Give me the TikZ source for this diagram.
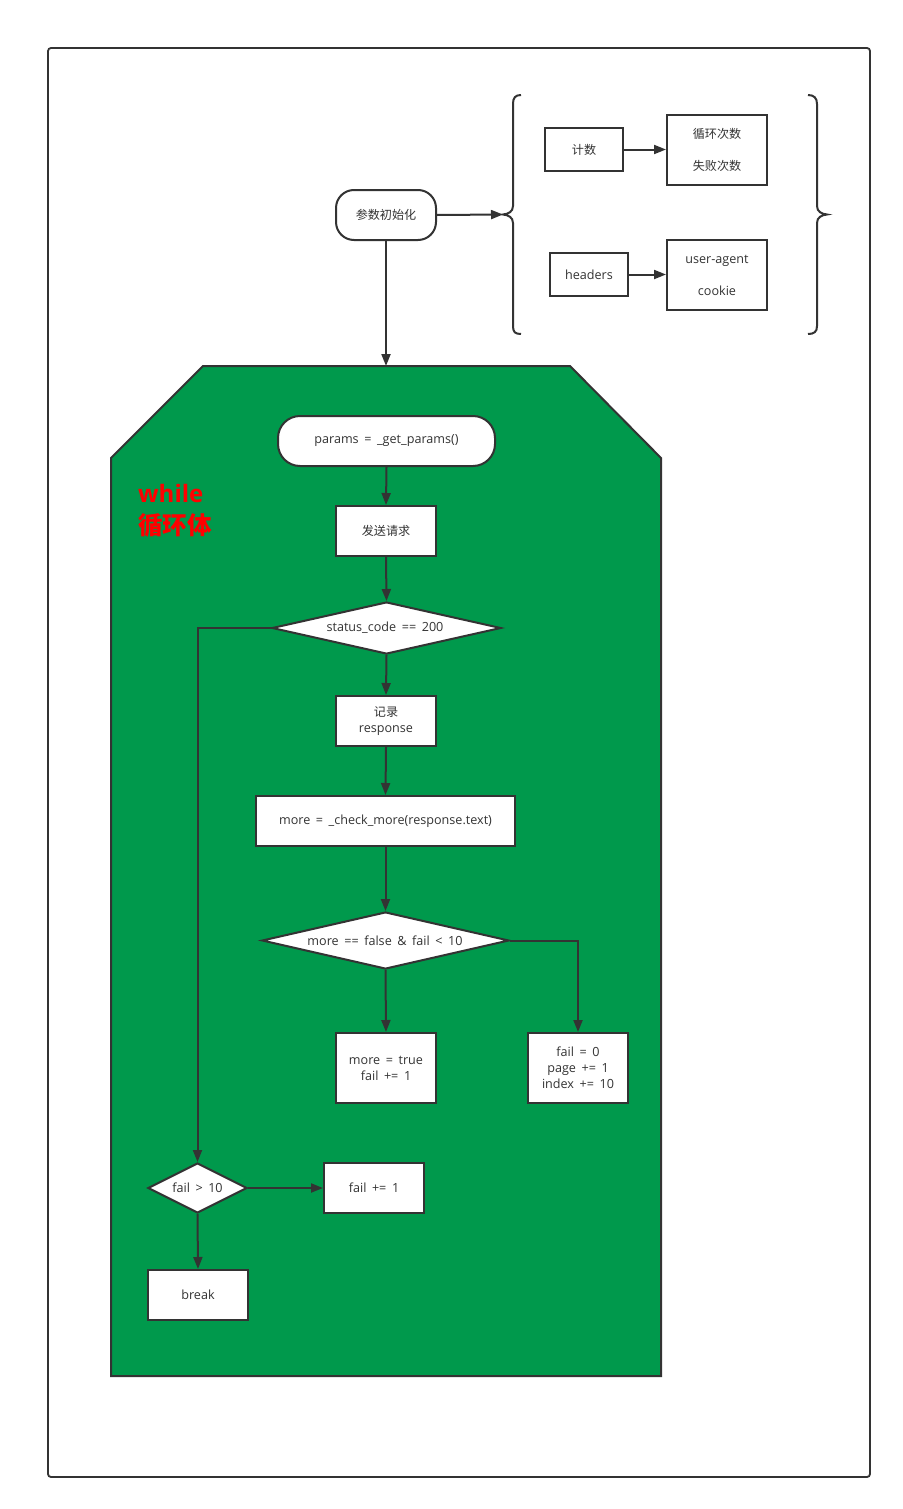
\documentclass[tikz,border=0pt]{standalone}
\usepackage{fontspec}
\setmainfont{Open Sans}[WordSpace=1.7]
\newfontfamily\cjk{Noto Sans CJK SC}[Scale=0.96]
\usetikzlibrary{arrows.meta,shapes.geometric}
\definecolor{ink}{HTML}{333333}
\definecolor{loopgreen}{RGB}{0,153,76}
\begin{document}
\begin{tikzpicture}[x=1pt,y=-1pt,
  every node/.style={font=\fontsize{12.6}{16}\selectfont, text=ink, inner sep=0pt, align=center},
  conn/.style={draw=ink, line width=2pt, -{Triangle[length=12pt,width=9pt]}},
  plainline/.style={draw=ink, line width=2pt},
  boxnode/.style={draw=ink, line width=2pt, fill=white, rectangle},
  termnode/.style={draw=ink, line width=2pt, fill=white, rounded corners=18pt},
  decnode/.style={draw=ink, line width=2pt, fill=white, diamond, aspect=4},
]
\useasboundingbox (0,0) rectangle (902,1509);
\fill[white] (0,0) rectangle (902,1509);
% outer frame
\draw[ink, line width=1.8pt, rounded corners=3pt] (48,48) rectangle (870,1477);

% init part
\node[termnode, minimum width=100pt, minimum height=50pt] (init) at (386,215) {\cjk 参数初始化};
\coordinate (lbtip) at (503,214.5);
\draw[plainline] (521,95) .. controls (515,95) and (513,98) .. (513,104) -- (513,206)
   .. controls (513,212) and (508,214) .. (lbtip)
   .. controls (508,215) and (513,217) .. (513,223) -- (513,326)
   .. controls (513,332) and (515,334) .. (521,334);
\draw[plainline] (808,95) .. controls (814,95) and (817,98) .. (817,104) -- (817,206)
   .. controls (817,212) and (822,214) .. (827,214.5)
   .. controls (822,215) and (817,217) .. (817,223) -- (817,326)
   .. controls (817,332) and (814,334) .. (808,334);
\draw[conn] (init.east) -- (lbtip);

\node[boxnode, minimum width=78pt, minimum height=43pt] (count) at (584,149.5) {\cjk 计数};
\node[boxnode, minimum width=100pt, minimum height=70pt] (countv) at (717,150) {\cjk 循环次数\\[16pt]\cjk 失败次数};
\node[boxnode, minimum width=78pt, minimum height=43pt] (headers) at (589,274.5) {headers};
\node[boxnode, minimum width=100pt, minimum height=70pt] (headv) at (717,275) {user-agent\\[16pt]cookie};
\draw[conn] (count.east) -- (countv.west |- count.east);
\draw[conn] (headers.east) -- (headv.west |- headers.east);

% loop body
\draw[ink, line width=2pt, fill=loopgreen] (203,366) -- (570,366) -- (661,458) -- (661,1376) -- (111,1376) -- (111,458) -- cycle;
\coordinate (looptop) at (386,366);
\draw[conn] (init.south) -- (looptop);

\node[anchor=north west, align=left, text=red, font=\fontsize{24}{32}\selectfont\bfseries, inner sep=0pt] (whilelbl) at (138,484) {while\\{\cjk\fontsize{25.5}{32}\selectfont 循环体}};

\node[termnode, minimum width=217pt, minimum height=50pt, rounded corners=22pt] (params) at (386.5,441) {params = \_get\_params()};
\node[boxnode, minimum width=100pt, minimum height=50pt] (send) at (386,531) {\cjk 发送请求};
\node[decnode, minimum width=229pt, minimum height=52pt] (status) at (386.5,628) {};
\node at (385,628) {status\_code == 200};
\node[boxnode, minimum width=100pt, minimum height=50pt] (record) at (386,721) {{\cjk 记录}\\response};
\node[boxnode, minimum width=259pt, minimum height=50pt] (check) at (385.5,821) {more = \_check\_more(response.text)};
\node[decnode, minimum width=247pt, minimum height=57pt] (more) at (385.5,940.5) {};
\node at (385,940.5) {more == false \& fail < 10};
\node[boxnode, minimum width=100pt, minimum height=70pt] (mtrue) at (386,1068) {more = true\\fail += 1};
\node[boxnode, minimum width=100pt, minimum height=70pt] (reset) at (578,1068) {fail = 0\\page += 1\\index += 10};
\node[decnode, aspect=2, minimum width=99pt, minimum height=50pt] (failgt) at (197.5,1188) {};
\node at (197.5,1188) {fail > 10};
\node[boxnode, minimum width=100pt, minimum height=50pt] (failinc) at (374,1188) {fail += 1};
\node[boxnode, minimum width=100pt, minimum height=50pt] (brk) at (198,1295) {break};

\draw[conn] (params.south) -- (send.north);
\draw[conn] (send.south) -- (status.north);
\draw[conn] (status.south) -- (record.north);
\draw[conn] (status.west) -| (failgt.north);
\draw[conn] (record.south) -- (check.north);
\draw[conn] (check.south) -- (more.north);
\draw[conn] (more.south) -- (mtrue.north);
\draw[conn] (more.east) -| (reset.north);
\draw[conn] (failgt.east) -- (failinc.west);
\draw[conn] (failgt.south) -- (brk.north);
\end{tikzpicture}
\end{document}
